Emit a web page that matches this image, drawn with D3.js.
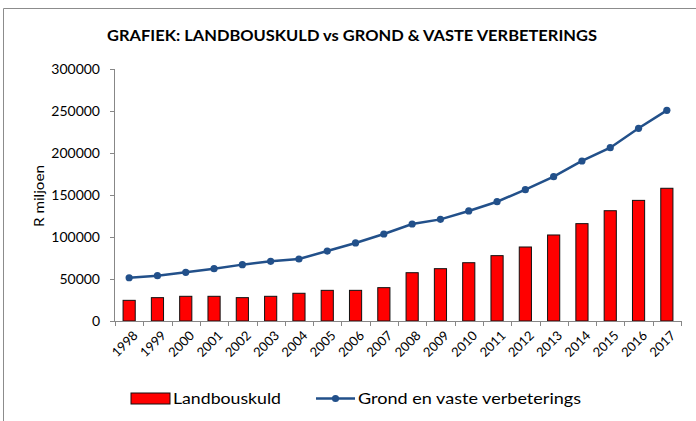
<!DOCTYPE html>
<html><head><meta charset="utf-8">
<script src="https://cdn.jsdelivr.net/npm/d3@7"></script>
<style>body{margin:0;background:#fff;}svg{display:block;font-family:Lato,"Open Sans",sans-serif;}</style>
</head><body>
<svg id="c" width="696" height="421"></svg>
<script>
const years = ["1998","1999","2000","2001","2002","2003","2004","2005","2006","2007","2008","2009","2010","2011","2012","2013","2014","2015","2016","2017"];
const landbouskuld = [24600,27800,29400,29400,27800,29400,33000,36500,36500,39700,57500,62300,69400,77800,88100,102400,115900,131300,143600,158000];
const grond = [51500,53900,58000,62300,67100,71000,73800,83300,92900,103600,115500,121000,131000,142000,156300,171800,190500,206300,229400,250800];
const yTicks = [0,50000,100000,150000,200000,250000,300000];
const seriesNames = ["Landbouskuld","Grond en vaste verbeterings"];
const title = "GRAFIEK: LANDBOUSKULD vs GROND & VASTE VERBETERINGS";

const svg = d3.select("#c");
const m = {l:115, r:681, t:69, b:321};
const x = d3.scaleBand().domain(years).range([m.l, m.r]).paddingInner(0.57).paddingOuter(0.285);
const xb = d3.scaleBand().domain(years).range([m.l, m.r]);
const y = d3.scaleLinear().domain([0,300000]).range([m.b, m.t]);
const axisCol = "#878787";
const lineCol = "#22508a";

// frame
svg.append("path").attr("d", `M3.5,421 V8.5 H696`).attr("fill","none").attr("stroke","#8c8c8c").attr("stroke-width",1);

// title
svg.append("text").attr("x",352).attr("y",41).attr("text-anchor","middle")
  .attr("font-size",15).attr("font-weight","bold").attr("fill","#000")
  .attr("textLength",490).attr("lengthAdjust","spacingAndGlyphs").text(title);

// y axis
const ya = svg.append("g").attr("transform",`translate(${m.l},0)`)
  .call(d3.axisLeft(y).tickValues(yTicks).tickFormat(d3.format("d")).tickSize(5).tickPadding(10));
ya.select(".domain").attr("stroke",axisCol).attr("d",`M-0.5,${m.t}V${m.b}`);
ya.selectAll(".tick line").attr("stroke",axisCol);
ya.selectAll(".tick text").attr("font-size",14).attr("fill","#000").attr("font-family","Lato");

// y label
svg.append("text").attr("transform",`translate(44,196) rotate(-90)`).attr("text-anchor","middle")
  .attr("font-size",14).attr("fill","#000").attr("textLength",62).attr("lengthAdjust","spacingAndGlyphs").text("R miljoen");

// bars
svg.append("g").selectAll("rect").data(years).join("rect")
  .attr("x", d => x(d)).attr("width", x.bandwidth())
  .attr("y", (d,i) => y(landbouskuld[i])).attr("height",(d,i)=> y(0)-y(landbouskuld[i]))
  .attr("fill","#ff0000").attr("stroke","#111").attr("stroke-width",1);

// x axis
const xa = svg.append("g").attr("transform",`translate(0,${m.b})`);
xa.append("line").attr("x1",m.l-0.5).attr("x2",m.r).attr("y1",0.5).attr("y2",0.5).attr("stroke",axisCol);
const bounds = years.map(d => xb(d)).concat([m.r]);
xa.selectAll("line.t").data(bounds).join("line").attr("class","t")
  .attr("x1",d=>Math.round(d)+0.5).attr("x2",d=>Math.round(d)+0.5).attr("y1",0).attr("y2",5).attr("stroke",axisCol);
xa.selectAll("text").data(years).join("text")
  .attr("transform", d => `translate(${xb(d)+xb.bandwidth()/2+3},${9}) rotate(-45)`)
  .attr("text-anchor","end").attr("dy","0.7em").attr("font-size",13).attr("fill","#000").text(d=>d);

// line
const line = d3.line().x((d,i)=> xb(years[i])+xb.bandwidth()/2).y(d=>y(d));
svg.append("path").datum(grond).attr("d",line).attr("fill","none").attr("stroke",lineCol).attr("stroke-width",2.5);
svg.append("g").selectAll("circle").data(grond).join("circle")
  .attr("cx",(d,i)=> xb(years[i])+xb.bandwidth()/2).attr("cy",d=>y(d)).attr("r",3.6).attr("fill",lineCol);

// legend
const lg = svg.append("g");
lg.append("rect").attr("x",131).attr("y",393).attr("width",39).attr("height",11).attr("fill","#ff0000").attr("stroke","#111");
lg.append("text").attr("x",173).attr("y",404).attr("font-size",16).attr("fill","#000")
  .attr("textLength",108).attr("lengthAdjust","spacingAndGlyphs").text(seriesNames[0]);
lg.append("line").attr("x1",316).attr("x2",355).attr("y1",398.5).attr("y2",398.5).attr("stroke",lineCol).attr("stroke-width",2.5);
lg.append("circle").attr("cx",335.5).attr("cy",398.5).attr("r",3.6).attr("fill",lineCol);
lg.append("text").attr("x",358).attr("y",404).attr("font-size",16).attr("fill","#000")
  .attr("textLength",223).attr("lengthAdjust","spacingAndGlyphs").text(seriesNames[1]);
</script>
</body></html>
